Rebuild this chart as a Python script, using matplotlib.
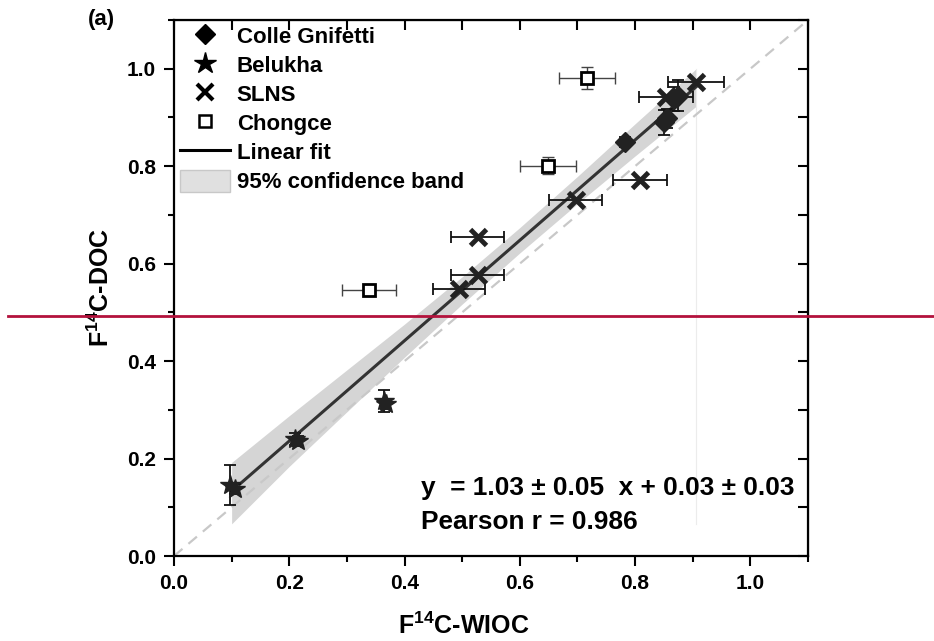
import numpy as np
import matplotlib
matplotlib.use("Agg")
import matplotlib.pyplot as plt
from matplotlib.lines import Line2D
from matplotlib.patches import Patch
from matplotlib.ticker import MultipleLocator, FixedLocator

plt.rcParams.update({"font.family": "Liberation Sans", "font.weight": "bold",
                     "mathtext.fontset": "custom", "mathtext.bf": "Liberation Sans:bold",
                     "mathtext.rm": "Liberation Sans:bold", "mathtext.default": "bf"})

INK = "#222222"

# Colle Gnifetti (diamonds)
cg_x = [0.783, 0.850, 0.856, 0.868, 0.875]
cg_y = [0.850, 0.890, 0.898, 0.938, 0.945]
cg_yerr = [0.010, 0.025, 0.020, 0.025, 0.031]

# Belukha (stars)
be_x = [0.098, 0.105, 0.210, 0.215, 0.365, 0.368]
be_y = [0.145, 0.138, 0.240, 0.236, 0.318, 0.312]
be_yerr = [0.041, 0.010, 0.012, 0.010, 0.022, 0.010]

# SLNS (crosses)
sl_x = [0.906, 0.854, 0.809, 0.697, 0.527, 0.527, 0.494]
sl_y = [0.973, 0.943, 0.772, 0.731, 0.655, 0.577, 0.548]
sl_xerr = [0.049, 0.047, 0.047, 0.046, 0.046, 0.046, 0.045]

# Chongce (open squares)
ch_x = [0.717, 0.649, 0.339]
ch_y = [0.981, 0.801, 0.546]
ch_xerr = [0.049, 0.048, 0.047]
ch_yerr = [0.022, 0.018, 0.010]

# linear fit and 95% confidence band
fit_x = [0.10, 0.906]
fit_y = [0.133, 0.963]
band_x = [0.10, 0.20, 0.30, 0.40, 0.50, 0.60, 0.70, 0.80, 0.906]
band_lo = [0.066, 0.184, 0.296, 0.408, 0.517, 0.622, 0.723, 0.821, 0.923]
band_hi = [0.192, 0.288, 0.382, 0.476, 0.573, 0.674, 0.779, 0.887, 1.000]

major_ticks = [0.0, 0.2, 0.4, 0.6, 0.8, 1.0]

fig = plt.figure(figsize=(9.34, 6.41), dpi=100)
ax = fig.add_axes([174/934, 1-556/641, 634/934, 536/641])

ax.fill_between(band_x, band_lo, band_hi, color="#d5d5d5", lw=0, zorder=1)
ax.plot([band_x[-1]]*2, [band_lo[0], band_hi[-1]], color="#ececec", lw=0.8, zorder=1)
ax.plot([0, 1.1], [0, 1.1], color="#c8c8c8", lw=1.6, dashes=(5, 3.5), zorder=2)
ax.plot(fit_x, fit_y, color="#333333", lw=2.2, zorder=3)

eb = dict(fmt="none", ecolor="#111111", elinewidth=1.3, capsize=4, capthick=1.3, zorder=4)
ax.errorbar(cg_x, cg_y, yerr=cg_yerr, **eb)
ax.errorbar(be_x, be_y, yerr=be_yerr, **eb)
ax.errorbar(sl_x, sl_y, xerr=sl_xerr, **eb)
ax.errorbar(ch_x, ch_y, xerr=ch_xerr, yerr=ch_yerr, fmt="none", ecolor="#444444",
            elinewidth=1.0, capsize=4, capthick=1.0, zorder=4)

ax.plot(cg_x, cg_y, "D", ms=10.5, color=INK, mec=INK, ls="none", zorder=5)
ax.plot(be_x, be_y, "*", ms=15, color=INK, mec=INK, ls="none", zorder=5)
ax.plot(sl_x, sl_y, "x", ms=11, mew=3.5, color=INK, ls="none", zorder=5)
ax.plot(ch_x, ch_y, "s", ms=9, mfc="white", mec="black", mew=2, ls="none", zorder=5)

ax.set_xlim(0, 1.1); ax.set_ylim(0, 1.1)
for a in (ax.xaxis, ax.yaxis):
    a.set_major_locator(FixedLocator(major_ticks))
    a.set_minor_locator(MultipleLocator(0.1))
    a.set_major_formatter(plt.FormatStrFormatter("%.1f"))
ax.tick_params(which="major", direction="out", length=7, width=1.5, labelsize=15, pad=6)
ax.tick_params(which="minor", direction="out", length=4, width=1.5)
for s in ax.spines.values():
    s.set_linewidth(1.6)

secx = ax.secondary_xaxis("top")
secx.xaxis.set_major_locator(MultipleLocator(0.1))
secx.tick_params(direction="in", length=7, width=1.5, labeltop=False)
secy = ax.secondary_yaxis("right")
secy.yaxis.set_major_locator(MultipleLocator(0.1))
secy.tick_params(direction="in", length=7, width=1.5, labelright=False)

ax.set_xlabel("F$^{14}$C-WIOC", fontsize=18, fontweight="bold")
ax.xaxis.set_label_coords(0.457, -0.105)
ax.set_ylabel("F$^{14}$C-DOC", fontsize=18, fontweight="bold")
ax.yaxis.set_label_coords(-0.095, 0.5)

ax.text(0.428, 0.14, "y  = 1.03 \u00b1 0.05  x + 0.03 \u00b1 0.03", fontsize=18.9,
        fontweight="bold", va="center", ha="left")
ax.text(0.428, 0.07, "Pearson r = 0.986", fontsize=18.9, fontweight="bold", va="center", ha="left")

fig.text(101/934, 1-20/641, "(a)", fontsize=16, fontweight="bold", ha="center", va="center")

handles = [Line2D([], [], marker="D", ms=10.5, color="black", ls="none"),
           Line2D([], [], marker="*", ms=16, color="black", ls="none"),
           Line2D([], [], marker="x", ms=11, mew=3, color="black", ls="none"),
           Line2D([], [], marker="s", ms=9, mfc="white", mec="black", mew=1.8, ls="none"),
           Line2D([], [], color="black", lw=2.2),
           Patch(facecolor="#e0e0e0", edgecolor="#c8c8c8")]
labels = ["Colle Gnifetti", "Belukha", "SLNS", "Chongce", "Linear fit", "95% confidence band"]
ax.legend(handles, labels, loc="upper left", bbox_to_anchor=(180/934, 1-25/641),
          bbox_transform=fig.transFigure, frameon=False, prop={"size": 16, "weight": "bold"},
          handlelength=2.25, handleheight=1.13, handletextpad=0.3, labelspacing=0.25,
          borderpad=0, borderaxespad=0)

fig.add_artist(Line2D([8/934, 1], [1-316/641]*2, transform=fig.transFigure,
                      color="#b3123c", lw=2))

fig.savefig("out.png", dpi=100)
